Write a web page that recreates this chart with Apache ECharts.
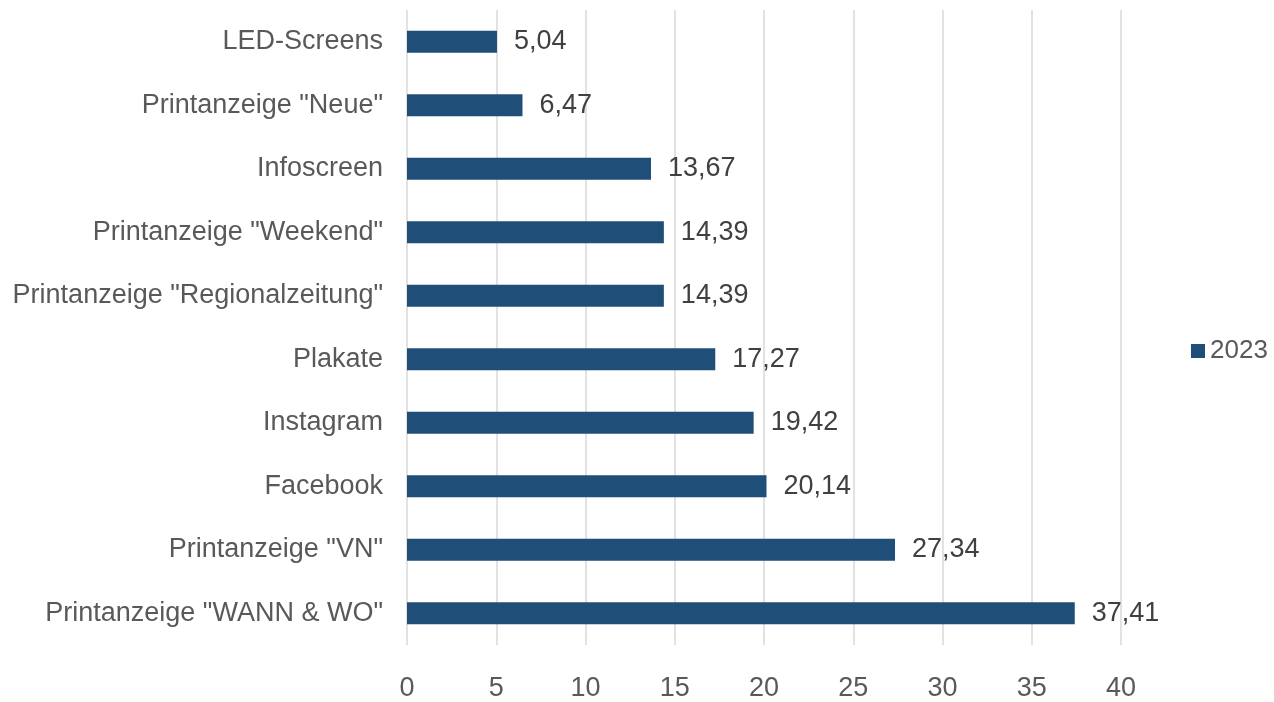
<!DOCTYPE html>
<html>
<head>
<meta charset="utf-8">
<script src="https://cdn.jsdelivr.net/npm/echarts@6/dist/echarts.min.js"></script>
<style>
  html, body { margin: 0; padding: 0; background: #fff; overflow: hidden; }
  #chart { width: 100vw; height: 100vh; }
</style>
</head>
<body>
<div id="chart"></div>
<script>
// Kategorien von unten nach oben (yAxis category)
var categories = [
    'Printanzeige "WANN & WO"',
    'Printanzeige "VN"',
    'Facebook',
    'Instagram',
    'Plakate',
    'Printanzeige "Regionalzeitung"',
    'Printanzeige "Weekend"',
    'Infoscreen',
    'Printanzeige "Neue"',
    'LED-Screens'
];
var values2023 = [37.41, 27.34, 20.14, 19.42, 17.27, 14.39, 14.39, 13.67, 6.47, 5.04];
var seriesName = '2023';

var chart = echarts.init(document.getElementById('chart'));
var fontFam = '"Liberation Sans", Arial, sans-serif';

chart.setOption({
    animation: false,
    textStyle: { fontFamily: fontFam },
    grid: { left: 407, right: 153, top: 10, bottom: 52, containLabel: false },
    legend: {
        data: [seriesName],
        orient: 'vertical',
        left: 1186,
        top: 'middle',
        icon: 'rect',
        itemWidth: 14,
        itemHeight: 14,
        itemGap: 8,
        textStyle: { fontSize: 26, color: '#595959', fontFamily: fontFam }
    },
    xAxis: {
        type: 'value',
        min: 0,
        max: 40,
        interval: 5,
        axisLine: { show: false },
        axisTick: { show: false },
        splitLine: { lineStyle: { color: '#d9d9d9', width: 1.5 } },
        axisLabel: { fontSize: 27, color: '#595959', margin: 30 }
    },
    yAxis: {
        type: 'category',
        data: categories,
        axisLine: { show: false },
        axisTick: { show: false },
        axisLabel: { fontSize: 27, color: '#595959', margin: 24 }
    },
    series: [{
        name: seriesName,
        type: 'bar',
        data: values2023,
        barWidth: 22,
        itemStyle: { color: '#1f4e79' },
        label: {
            show: true,
            position: 'right',
            distance: 17,
            fontSize: 27,
            color: '#404040',
            formatter: function (p) {
                return p.value.toFixed(2).replace('.', ',');
            }
        }
    }]
});
</script>
</body>
</html>
